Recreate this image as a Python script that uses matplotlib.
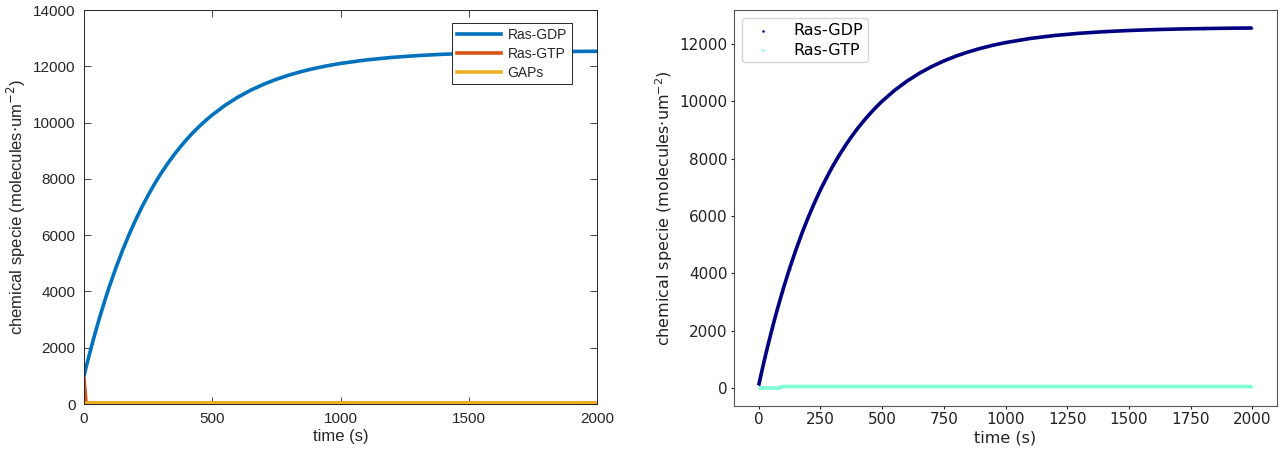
import matplotlib
matplotlib.use("Agg")
import matplotlib.pyplot as plt

# ---- left panel: deterministic model ----
t_left = [0, 5, 10, 15, 25, 37.5, 50, 62.5, 75, 87.5, 100, 125, 150, 175, 200,
          225, 250, 275, 300, 325, 350, 375, 400, 425, 450, 475, 500, 550, 600,
          650, 700, 750, 800, 850, 900, 950, 1000, 1100, 1200, 1300, 1400,
          1500, 1600, 1700, 1800, 1900, 2000]
gdp_left = [1000, 1186, 1370, 1549, 1900, 2325, 2730, 3122, 3495, 3856, 4204,
            4853, 5453, 6007, 6515, 6986, 7418, 7820, 8189, 8529, 8842, 9131,
            9398, 9644, 9870, 10079, 10271, 10613, 10903, 11150, 11360, 11538,
            11690, 11819, 11928, 12021, 12101, 12225, 12315, 12380, 12427,
            12461, 12486, 12504, 12516, 12526, 12533]
t_gtp_left = [0, 8, 20, 2000]
gtp_left = [900, 60, 30, 30]
t_gaps_left = [0, 2000]
gaps_left = [40, 40]

# ---- right panel: stochastic simulation ----
t_right = [0, 5, 10, 15, 25, 37.5, 50, 62.5, 75, 87.5, 100, 125, 150, 175, 200,
           225, 250, 275, 300, 325, 350, 375, 400, 425, 450, 475, 500, 550, 600,
           650, 700, 750, 800, 850, 900, 950, 1000, 1100, 1200, 1300, 1400,
           1500, 1600, 1700, 1800, 1900, 2000]
gdp_right = [100, 295, 487, 677, 1048, 1493, 1920, 2334, 2730, 3110, 3477,
             4166, 4803, 5394, 5940, 6442, 6911, 7338, 7738, 8103, 8443, 8756,
             9048, 9314, 9562, 9791, 10003, 10379, 10700, 10974, 11208, 11408,
             11580, 11725, 11850, 11957, 12048, 12192, 12297, 12373, 12429,
             12470, 12500, 12521, 12537, 12549, 12557]
t_gtp_right = [0, 88, 90, 2000]
gtp_right = [5, 5, 55, 55]

xticks_left = [0, 500, 1000, 1500, 2000]
yticks_left = [0, 2000, 4000, 6000, 8000, 10000, 12000, 14000]
xticks_right = [0, 250, 500, 750, 1000, 1250, 1500, 1750, 2000]
yticks_right = [0, 2000, 4000, 6000, 8000, 10000, 12000]

fig = plt.figure(figsize=(12.88, 4.59), dpi=100)

# ---------------- left axes (MATLAB look) ----------------
mat_font = ["Liberation Sans", "DejaVu Sans"]
txt = "#262626"
axl = fig.add_axes([84 / 1288, 55 / 459, 513 / 1288, 394 / 459])
axl.plot(t_left, gdp_left, color="#0072BD", lw=2.6, label="Ras-GDP")
axl.plot(t_gtp_left, gtp_left, color="#D95319", lw=2.6, label="Ras-GTP")
axl.plot(t_gaps_left, gaps_left, color="#EDB120", lw=2.6, label="GAPs")
axl.set_xlim(0, 2000)
axl.set_ylim(0, 14000)
axl.set_xticks(xticks_left)
axl.set_yticks(yticks_left)
axl.tick_params(direction="in", top=True, right=True, length=5, width=0.6,
                colors=txt, labelsize=11, pad=6)
for lab in axl.get_xticklabels() + axl.get_yticklabels():
    lab.set_family(mat_font)
for sp in axl.spines.values():
    sp.set_color(txt)
    sp.set_linewidth(0.7)
axl.set_xlabel("time (s)", fontsize=12, color=txt, family=mat_font, labelpad=2)
axl.set_ylabel("chemical specie (molecules$\\cdot$um$^{-2}$)", fontsize=12,
               color=txt, family=mat_font, labelpad=4)
legl = axl.legend(loc="upper right", bbox_to_anchor=(0.951, 0.967),
                  borderaxespad=0, fancybox=False, framealpha=1,
                  edgecolor=txt, handlelength=3.2,
                  handletextpad=0.45, labelspacing=0.35, borderpad=0.35,
                  prop={"family": mat_font, "size": 10})
legl.get_frame().set_linewidth(0.7)
for t in legl.get_texts():
    t.set_color(txt)

# ---------------- right axes (matplotlib default look) ----------------
axr = fig.add_axes([734 / 1288, 53 / 459, 543 / 1288, 396 / 459])
axr.plot(t_right, gdp_right, color="navy", lw=2.6, solid_capstyle="butt",
         zorder=3)
axr.plot(t_gtp_right, gtp_right, color="aquamarine", lw=2.6,
         solid_capstyle="butt", zorder=3)
axr.scatter(t_right, gdp_right, s=1.5, linewidths=0, color="navy",
            label="Ras-GDP", zorder=2)
axr.scatter(t_gtp_right, gtp_right, s=1.5, linewidths=0, color="aquamarine",
            label="Ras-GTP", zorder=2)
axr.set_xticks(xticks_right)
axr.set_yticks(yticks_right)
axr.tick_params(labelsize=11, colors="#222222", length=2.5, pad=2)
for sp in axr.spines.values():
    sp.set_color("#555555")
axr.set_xlabel("time (s)", fontsize=11.5, labelpad=2, color="#222222")
axr.set_ylabel("chemical specie (molecules$\\cdot$um$^{-2}$)", fontsize=11.5,
               color="#222222", labelpad=3)
axr.legend(loc="upper left", fontsize=11.5, scatterpoints=1, markerscale=1.5,
           handlelength=2.0, handletextpad=0.9, borderpad=0.3,
           labelspacing=0.3)

fig.savefig("out.png", dpi=100)
